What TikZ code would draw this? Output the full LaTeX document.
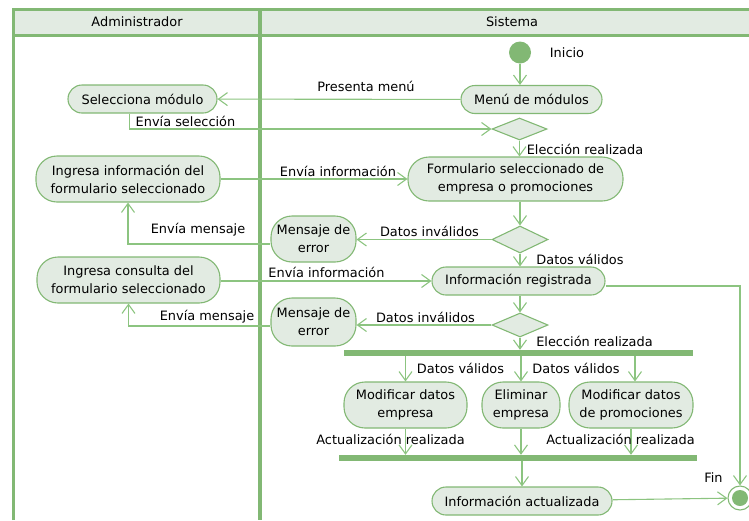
\documentclass[tikz,border=0pt]{standalone}
\usepackage{fontspec}
\setmainfont{DejaVu Sans}
\usetikzlibrary{arrows.meta,positioning,shapes.geometric,calc}
\definecolor{umlgreen}{RGB}{130,184,116}
\definecolor{umlline}{RGB}{140,196,128}
\definecolor{umlfill}{RGB}{226,235,226}

\begin{document}
\begin{tikzpicture}[
	x=1pt, y=-1pt,
	font=\fontsize{12.9}{18}\selectfont,
	accion/.style={draw=umlgreen,fill=umlfill,line width=1.1pt,rounded corners=14pt,align=center,inner sep=0pt},
	accion alta/.style={accion,rounded corners=21pt},
	decision/.style={diamond,draw=umlgreen,fill=umlfill,line width=1.1pt,inner sep=0pt},
	barra/.style={fill=umlgreen,inner sep=0pt},
	carril/.style={draw=umlgreen,line width=3pt},
	flujo/.style={draw=umlline,line width=1.1pt,-{Straight Barb[length=9pt,width=13pt]}},
	etiqueta/.style={inner sep=0pt}
	]
	\useasboundingbox (0,0) rectangle (749,520);
	
	% carriles
	\fill[umlfill] (13,9) rectangle (752,35);
	\draw[carril] (13,520) -- (13,9) -- (752,9);
	\draw[carril] (13,35) -- (752,35);
	\draw[carril,line width=4.5pt] (260,9) -- (260,520);
	\node (hAdmin) at (137,22) {Administrador};
	\node (hSis) at (512,22) {Sistema};
	
	% nodos
	\node[circle,fill=umlgreen,minimum size=22pt,inner sep=0pt] (inicio) at (520,52.5) {};
	\node[accion,minimum width=141pt,minimum height=28pt] (menu) at (531.5,99.5) {Menú de módulos};
	\node[accion,minimum width=149pt,minimum height=28pt] (sel) at (142.5,99) {Selecciona módulo};
	\node[decision,minimum width=55pt,minimum height=22pt] (d1) at (519.5,129) {};
	\node[accion alta,minimum width=215pt,minimum height=44pt] (form) at (515.5,179) {Formulario seleccionado de\\empresa o promociones};
	\node[accion alta,minimum width=184pt,minimum height=46pt] (ingInfo) at (128,179) {Ingresa información del\\formulario seleccionado};
	\node[decision,minimum width=56pt,minimum height=27pt] (d2) at (520,239.5) {};
	\node[accion alta,minimum width=85pt,minimum height=46pt] (err1) at (313.5,239) {Mensaje de\\error};
	\node[accion,minimum width=173pt,minimum height=28pt] (reg) at (518.5,281) {Información registrada};
	\node[accion alta,minimum width=183pt,minimum height=46pt] (ingCons) at (128.5,280) {Ingresa consulta del\\formulario seleccionado};
	\node[decision,minimum width=56pt,minimum height=24pt] (d3) at (520,325) {};
	\node[accion alta,minimum width=85pt,minimum height=48pt] (err2) at (313.5,322) {Mensaje de\\error};
	\node[barra,minimum width=349pt,minimum height=6pt] (fork) at (518.5,353) {};
	\node[accion alta,minimum width=123pt,minimum height=46pt] (modEmp) at (405.5,405) {Modificar datos\\empresa};
	\node[accion alta,minimum width=78pt,minimum height=46pt] (elim) at (521,405) {Eliminar\\empresa};
	\node[accion alta,minimum width=124pt,minimum height=46pt] (modProm) at (631,405) {Modificar datos\\de promociones};
	\node[barra,minimum width=358pt,minimum height=6pt] (join) at (518,458) {};
	\node[accion,minimum width=180pt,minimum height=28pt] (act) at (522,501) {Información actualizada};
	\node[circle,draw=umlgreen,fill=white,line width=1.1pt,minimum size=24pt,inner sep=0pt] (fin) at (740,498) {};
	\node[circle,fill=umlgreen,minimum size=16pt,inner sep=0pt] (finPunto) at (fin) {};
	
	% flujos
	\draw[flujo] (inicio) -- (inicio |- menu.north);
	\draw[flujo] (menu) -- (sel);
	\draw[flujo] ([xshift=-13pt]sel.south) |- (d1.west);
	\draw[flujo] (d1.south) -- (d1.south |- form.north);
	\draw[flujo] (ingInfo) -- (form);
	\draw[flujo] (d2.north |- form.south) -- (d2.north);
	\draw[flujo] (d2.west) -- (err1.east |- d2.west);
	\draw[flujo] ([yshift=-5pt]err1.west) -| (ingInfo.south);
	\draw[flujo] (d2.south) -- (d2.south |- reg.north);
	\draw[flujo] (ingCons.east |- reg.west) -- (reg.west);
	\draw[flujo] ([yshift=-5pt]reg.east) -| (fin.north);
	\draw[flujo] (d3.north |- reg.south) -- (d3.north);
	\draw[flujo] (d3.west) -- (err2.east |- d3.west);
	\draw[flujo] ([yshift=-4pt]err2.west) -| (ingCons.south);
	\draw[flujo] (d3.south) -- (d3.south |- fork.north);
	\draw[flujo] (modEmp.north |- fork.south) -- (modEmp.north);
	\draw[flujo] (elim.north |- fork.south) -- (elim.north);
	\draw[flujo] ([xshift=4pt]modProm.north |- fork.south) -- ([xshift=4pt]modProm.north);
	\draw[flujo] (modEmp.south) -- (modEmp.south |- join.north);
	\draw[flujo] (elim.south) -- (elim.south |- join.north);
	\draw[flujo] (modProm.south) -- (modProm.south |- join.north);
	\draw[flujo] (act.north |- join.south) -- (act.north);
	\draw[flujo] (act) -- (fin);
	
	% etiquetas
	\node[etiqueta] (lInicio) at (567,53) {Inicio};
	\node[etiqueta] (lMenu) at (366,86) {Presenta menú};
	\node[etiqueta] (lSel) at (185.5,121) {Envía selección};
	\node[etiqueta] (lElec1) at (585,149) {Elección realizada};
	\node[etiqueta] (lInfo1) at (338,171) {Envía información};
	\node[etiqueta] (lInv1) at (429.5,231) {Datos inválidos};
	\node[etiqueta] (lMsj1) at (198,230) {Envía mensaje};
	\node[etiqueta] (lVal1) at (580,259) {Datos válidos};
	\node[etiqueta] (lInfo2) at (326.5,272) {Envía información};
	\node[etiqueta] (lInv2) at (425.5,317) {Datos inválidos};
	\node[etiqueta] (lMsj2) at (207,317) {Envía mensaje};
	\node[etiqueta] (lElec2) at (594.5,341) {Elección realizada};
	\node[etiqueta] (lVal2) at (460.5,368) {Datos válidos};
	\node[etiqueta] (lVal3) at (576,368) {Datos válidos};
	\node[etiqueta] (lAct1) at (390.5,439) {Actualización realizada};
	\node[etiqueta] (lAct2) at (620.5,439) {Actualización realizada};
	\node[etiqueta] (lFin) at (713.5,478) {Fin};
\end{tikzpicture}
\end{document}
